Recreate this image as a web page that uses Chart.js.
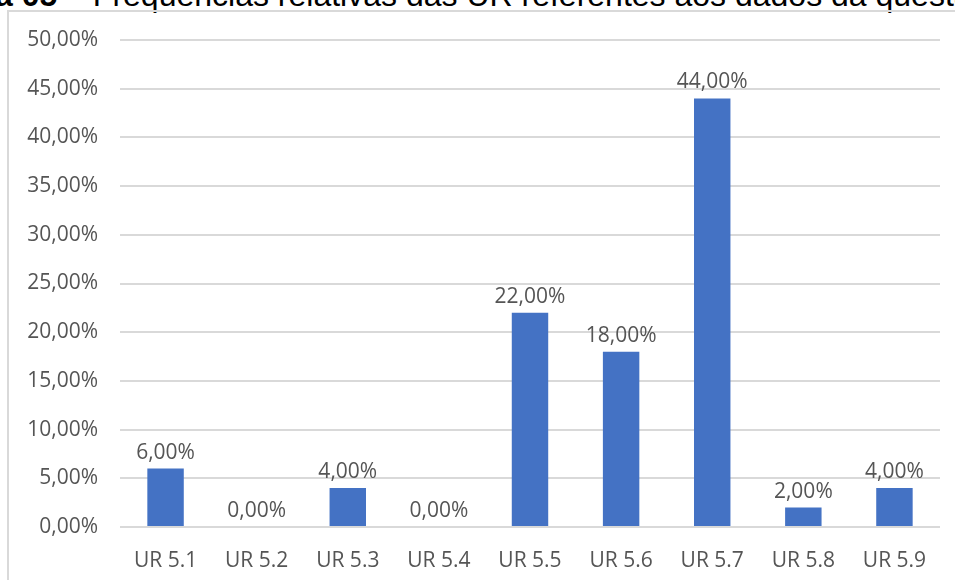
<!DOCTYPE html>
<html>
<head>
<meta charset="utf-8">
<script src="https://cdn.jsdelivr.net/npm/chart.js@4.4.1/dist/chart.umd.min.js"></script>
<style>
    html, body { margin: 0; padding: 0; background: #fff; overflow: hidden; }
    #caption {
        position: absolute; left: -5px; top: -21px;
        font-family: "Liberation Sans", Arial, sans-serif; font-size: 32px;
        line-height: 1; white-space: nowrap; color: #000;
    }
    #caption b { font-weight: bold; }
    #frame {
        position: absolute; left: 7px; top: 10px; width: 960px; height: 580px;
        border-left: 2px solid #d9d9d9; border-top: 2px solid #d9d9d9;
    }
    #wrap { position: absolute; left: 0; top: 0; width: 955px; height: 580px; }
</style>
</head>
<body>
<div id="caption"><b>a 05</b> – Frequências relativas das UR referentes aos dados da questão</div>
<div id="frame"></div>
<div id="wrap"><canvas id="urChart"></canvas></div>
<script>
    const categories = ['UR 5.1', 'UR 5.2', 'UR 5.3', 'UR 5.4', 'UR 5.5', 'UR 5.6', 'UR 5.7', 'UR 5.8', 'UR 5.9'];
    const frequencies = [6, 0, 4, 0, 22, 18, 44, 2, 4];
    const yTicks = [0, 5, 10, 15, 20, 25, 30, 35, 40, 45, 50];

    const textColor = '#555555';
    const fontFamily = '"Open Sans", "Noto Sans", sans-serif';

    function pct(v) {
        return v.toFixed(2).replace('.', ',') + '%';
    }

    // value labels above each bar
    const barLabels = {
        id: 'barLabels',
        afterDatasetsDraw(chart) {
            const ctx = chart.ctx;
            const meta = chart.getDatasetMeta(0);
            ctx.save();
            ctx.font = '21px ' + fontFamily;
            ctx.fillStyle = textColor;
            ctx.textAlign = 'center';
            ctx.textBaseline = 'alphabetic';
            meta.data.forEach((bar, i) => {
                ctx.fillText(pct(frequencies[i]), bar.x, bar.y - 10);
            });
            ctx.restore();
        }
    };

    new Chart(document.getElementById('urChart'), {
        type: 'bar',
        data: {
            labels: categories,
            datasets: [{
                data: frequencies,
                backgroundColor: '#4472C4',
                borderWidth: 0,
                barPercentage: 0.4,
                categoryPercentage: 1.0
            }]
        },
        options: {
            responsive: true,
            maintainAspectRatio: false,
            animation: false,
            layout: { padding: { top: 40, right: 15, left: 0, bottom: 0 } },
            plugins: {
                legend: { display: false },
                tooltip: { enabled: false }
            },
            scales: {
                x: {
                    grid: { display: false },
                    border: { display: false },
                    ticks: {
                        color: textColor,
                        font: { family: fontFamily, size: 21 },
                        padding: 13,
                        maxRotation: 0
                    },
                    afterFit(scale) { scale.height = 53; }
                },
                y: {
                    min: 0,
                    max: 50,
                    afterBuildTicks(scale) {
                        scale.ticks = yTicks.map(v => ({ value: v }));
                    },
                    grid: { color: '#d9d9d9', lineWidth: 2, drawTicks: false },
                    border: { display: false },
                    ticks: {
                        color: textColor,
                        font: { family: fontFamily, size: 21 },
                        padding: 22,
                        callback: v => pct(v)
                    },
                    afterFit(scale) { scale.width = 120; }
                }
            }
        },
        plugins: [barLabels]
    });
</script>
</body>
</html>
